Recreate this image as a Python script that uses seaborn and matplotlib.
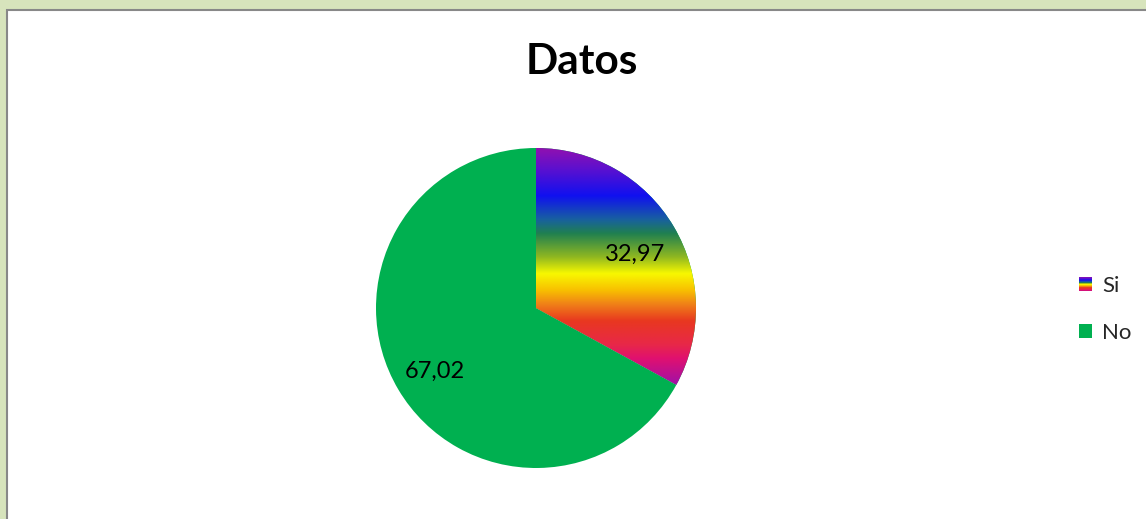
import numpy as np
import matplotlib
matplotlib.use("Agg")
import matplotlib.pyplot as plt
import seaborn as sns
from matplotlib.colors import LinearSegmentedColormap
from matplotlib.patches import Rectangle
from matplotlib.legend_handler import HandlerBase

# ---- data ----
categories = ["Si", "No"]
values = [32.97, 67.02]
value_labels = ["32,97", "67,02"]
title_text = "Datos"

# ---- style ----
sns.set_theme(style="white")
plt.rcParams["font.family"] = ["Lato", "DejaVu Sans"]

green = "#00B050"
rainbow_stops = [
    (0.00, "#9010B0"), (0.09, "#5A10D0"), (0.20, "#1010F0"), (0.30, "#1860A0"),
    (0.36, "#208050"), (0.46, "#90B820"), (0.53, "#F8F800"), (0.60, "#F8C000"),
    (0.66, "#F08018"), (0.73, "#E83820"), (0.83, "#E82848"), (0.89, "#E01070"),
    (1.00, "#A010A8"),
]
rainbow = LinearSegmentedColormap.from_list("rainbow_excel", rainbow_stops)

W, H = 1146, 519
fig = plt.figure(figsize=(W / 100, H / 100), dpi=100)
fig.patch.set_facecolor("#D7E4BC")
fig.add_artist(Rectangle((7 / W, -0.02), 1.1, 1.02 - 10 / H, transform=fig.transFigure,
                         facecolor="white", edgecolor="#888888", linewidth=1.5, zorder=0))

# pie axes (center ~ (536, 308) px, radius 160 px)
cx, cy, r_px, half = 536, 308, 160, 170
ax = fig.add_axes([(cx - half) / W, (H - cy - half) / H, 2 * half / W, 2 * half / H])
ax.set_facecolor("none")
wedges, _ = ax.pie(values, colors=[green, green], startangle=90, counterclock=False,
                   radius=1, wedgeprops=dict(linewidth=0))
lim = half / r_px
ax.axis("off")

# gradient fill for the "Si" slice
ext = wedges[0].get_path().get_extents()
grad = np.linspace(0, 1, 512).reshape(-1, 1)
im = ax.imshow(grad, cmap=rainbow, aspect="auto", origin="upper",
               extent=[ext.x0, ext.x1, ext.y0, ext.y1], zorder=3, interpolation="bilinear")
im.set_clip_path(wedges[0])
ax.set_xlim(-lim, lim)
ax.set_ylim(-lim, lim)

# value labels
label_pos = [(0.619, 0.337), (-0.631, -0.394)]
for (lx, ly), txt in zip(label_pos, value_labels):
    ax.text(lx, ly, txt, ha="center", va="center", fontsize=17, color="black", zorder=5)

# title
fig.text(582 / W, 1 - 62 / H, title_text, ha="center", va="center",
         fontsize=30.5, fontweight="bold", color="black")

# legend with gradient handle
class HandlerGradient(HandlerBase):
    def create_artists(self, legend, orig_handle, xdescent, ydescent, width, height,
                       fontsize, trans):
        n = 16
        arts = []
        for i in range(n):
            c = rainbow(1 - (i + 0.5) / n)
            arts.append(Rectangle((-xdescent, -ydescent + height * i / n), width, height / n,
                                  facecolor=c, edgecolor="none", transform=trans))
        return arts

h_si = Rectangle((0, 0), 1, 1, facecolor="none")
h_no = Rectangle((0, 0), 1, 1, facecolor=green, edgecolor="none")
fig.legend([h_si, h_no], categories, handler_map={h_si: HandlerGradient()},
           loc="center left", bbox_to_anchor=(1079 / W, 1 - 309.5 / H), frameon=False,
           fontsize=16, handlelength=0.6, handleheight=0.6, handletextpad=0.45,
           labelspacing=1.2, borderpad=0, borderaxespad=0)

fig.savefig("out.png", dpi=100, facecolor=fig.get_facecolor())
